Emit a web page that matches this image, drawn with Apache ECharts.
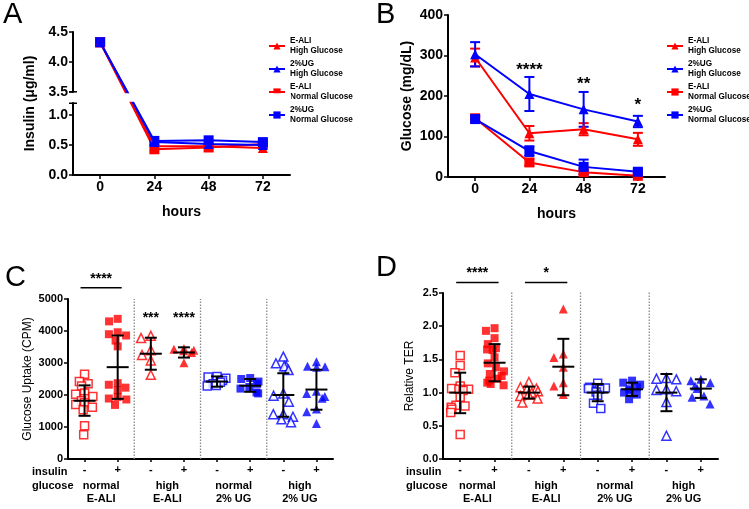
<!DOCTYPE html>
<html><head><meta charset="utf-8">
<script src="https://cdn.jsdelivr.net/npm/echarts@6/dist/echarts.min.js"></script>
<style>html,body{margin:0;padding:0;background:#fff}#c{width:749px;height:509px}</style>
</head><body><div id="c"></div>
<script>
// ---------- data ----------
const hours = ['0', '24', '48', '72'];
const seriesNames = ['E-ALI\nHigh Glucose', '2%UG\nHigh Glucose', 'E-ALI\nNormal Glucose', '2%UG\nNormal Glucose'];
// Panel A: insulin (ug/ml)
const aEaliHigh = [4.33, 0.48, 0.48, 0.45];
const aUgHigh = [4.33, 0.55, 0.52, 0.50];
const aEaliNormal = [4.33, 0.43, 0.46, 0.52];
const aUgNormal = [4.33, 0.57, 0.58, 0.55];
const aTicks = [0, 0.5, 1.0, 3.5, 4.0, 4.5];
const aBreak = [1.2, 3.5];
// Panel B: glucose (mg/dL) mean and SD
const bEaliHigh = [295, 108, 118, 93];
const bEaliHighSd = [22, 18, 15, 16];
const bUgHigh = [303, 205, 167, 137];
const bUgHighSd = [30, 42, 43, 14];
const bEaliNormal = [145, 36, 12, 3];
const bEaliNormalSd = [6, 8, 6, 3];
const bUgNormal = [143, 64, 25, 13];
const bUgNormalSd = [6, 12, 18, 5];
const bStarHours = ['24', '48', '72'];
const bStarValues = [263, 230, 176];
const bStarTexts = ['****', '**', '*'];
// Panels C / D categories
const insulinLabels = ['-', '+', '-', '+', '-', '+', '-', '+'];
const glucoseGroups = ['normal\nE-ALI', 'high\nE-ALI', 'normal\n2% UG', 'high\n2% UG'];
const separatorsAfter = [1, 3, 5];
// Panel C: glucose uptake (CPM)
const c1 = [2650, 2420, 2350, 2280, 2060, 2020, 1950, 1880, 1820, 1760, 1700, 1620, 1540, 1040, 760];
const c2 = [4380, 4300, 3960, 3900, 3860, 3700, 3520, 2370, 2320, 2230, 2150, 1940, 1890, 1860, 1690];
const c3 = [3850, 3780, 3400, 3250, 3080, 2630];
const c4 = [3450, 3430, 3400, 3380, 3330, 3010];
const c5 = [2580, 2560, 2520, 2450, 2400, 2350, 2300, 2280];
const c6 = [2530, 2500, 2420, 2350, 2250, 2200, 2080, 2050];
const c7 = [3200, 2990, 2900, 2900, 2780, 2050, 1980, 1790, 1400, 1400, 1320, 1240, 1150];
const c8 = [3040, 2900, 2880, 2870, 2120, 2050, 1950, 1900, 1560, 1480, 1110];
const cMean = [1820, 2870, 3290, 3330, 2420, 2290, 2000, 2170];
const cLow = [1350, 1880, 2790, 3170, 2260, 2100, 1320, 1540];
const cHigh = [2300, 3860, 3790, 3490, 2580, 2500, 2680, 2790];
const cSigBars = [[0, 1, 5350, '****']];
const cSigTexts = [[2, 4400, '***'], [3, 4400, '****']];
// Panel D: relative TER
const d1 = [1.56, 1.41, 1.30, 1.10, 1.06, 1.05, 1.05, 1.03, 0.93, 0.81, 0.80, 0.78, 0.75, 0.70, 0.37];
const d2 = [1.97, 1.93, 1.82, 1.73, 1.67, 1.65, 1.64, 1.53, 1.44, 1.38, 1.32, 1.28, 1.25, 1.21, 1.18, 1.15, 1.13, 1.11];
const d3 = [1.16, 1.08, 1.06, 1.05, 1.02, 1.00, 0.97, 0.95, 0.91, 0.85];
const d4 = [2.26, 1.58, 1.53, 1.38, 1.15, 1.10, 0.97];
const d5 = [1.14, 1.08, 1.07, 1.06, 1.05, 1.01, 0.96, 0.84, 0.76];
const d6 = [1.18, 1.15, 1.12, 1.08, 1.05, 1.03, 1.00, 0.97, 0.90];
const d7 = [1.22, 1.21, 1.20, 1.05, 1.04, 1.02, 0.86, 0.35];
const d8 = [1.20, 1.18, 1.15, 1.10, 1.06, 0.95, 0.93, 0.83];
const dMean = [1.00, 1.45, 1.00, 1.39, 1.00, 1.05, 1.00, 1.06];
const dLow = [0.69, 1.17, 0.91, 0.96, 0.87, 0.95, 0.72, 0.92];
const dHigh = [1.30, 1.73, 1.09, 1.81, 1.13, 1.15, 1.28, 1.20];
const dSigBars = [[0, 1, 2.66, '****'], [2, 3, 2.66, '*']];

// ---------- helpers ----------
const RED = '#ff0000', BLUE = '#0000ff';
const FONT = 'Arial, "Liberation Sans", sans-serif';
const chart = echarts.init(document.getElementById('c'), null, {renderer: 'canvas'});

function axisStyleBig() {
  return {
    axisLine: {show: true, lineStyle: {color: '#000', width: 2}},
    axisTick: {show: true, length: 4, lineStyle: {color: '#000', width: 1.5}},
    axisLabel: {color: '#000', fontSize: 14, fontWeight: 'bold', fontFamily: FONT, margin: 5},
    splitLine: {show: false},
    nameTextStyle: {color: '#000', fontSize: 14, fontWeight: 'bold', fontFamily: FONT}
  };
}
function axisStyleSmall() {
  return {
    axisLine: {show: true, lineStyle: {color: '#000', width: 2}},
    axisTick: {show: true, length: 4, lineStyle: {color: '#000', width: 1.5}},
    axisLabel: {color: '#000', fontSize: 11, fontWeight: 'bold', fontFamily: FONT, margin: 5},
    splitLine: {show: false},
    nameTextStyle: {color: '#000', fontSize: 12, fontFamily: FONT}
  };
}

function lineSeries(name, data, color, symbol, xi, yi) {
  return {
    type: 'line', name, data, xAxisIndex: xi, yAxisIndex: yi,
    symbol, symbolSize: 10,
    lineStyle: {color, width: 2}, itemStyle: {color},
    z: symbol === 'rect' ? 3 : 4, animation: false
  };
}
function errSeries(mean, sd, color, xi, yi) {
  return {
    type: 'custom', xAxisIndex: xi, yAxisIndex: yi, animation: false, silent: true, z: 3,
    data: mean.map((m, i) => [i, m - sd[i], m + sd[i]]),
    renderItem(params, api) {
      const lo = api.coord([api.value(0), api.value(1)]);
      const hi = api.coord([api.value(0), api.value(2)]);
      const st = {stroke: color, lineWidth: 2};
      return {type: 'group', children: [
        {type: 'line', shape: {x1: lo[0], y1: lo[1], x2: hi[0], y2: hi[1]}, style: st},
        {type: 'line', shape: {x1: lo[0] - 5, y1: lo[1], x2: lo[0] + 5, y2: lo[1]}, style: st},
        {type: 'line', shape: {x1: hi[0] - 5, y1: hi[1], x2: hi[0] + 5, y2: hi[1]}, style: st}
      ]};
    }
  };
}
function scatterSeries(values, cat, color, symbol, filled, xi, yi) {
  return {
    type: 'scatter', xAxisIndex: xi, yAxisIndex: yi, animation: false,
    data: values.map(v => [cat, v]),
    symbol, symbolSize: symbol === 'triangle' ? 9 : 8,
    itemStyle: filled ? {color} : {color: '#fff', borderColor: color, borderWidth: 1.5},
    z: 2
  };
}
function meanSdSeries(mean, low, high, xi, yi, half) {
  return {
    type: 'custom', xAxisIndex: xi, yAxisIndex: yi, animation: false, silent: true, z: 5,
    data: mean.map((m, i) => [i, m, low[i], high[i]]),
    renderItem(params, api) {
      const pm = api.coord([api.value(0), api.value(1)]);
      const pl = api.coord([api.value(0), api.value(2)]);
      const ph = api.coord([api.value(0), api.value(3)]);
      const st = {stroke: '#000', lineWidth: 2};
      return {type: 'group', children: [
        {type: 'line', shape: {x1: pm[0] - half, y1: pm[1], x2: pm[0] + half, y2: pm[1]}, style: st},
        {type: 'line', shape: {x1: pl[0], y1: pl[1], x2: ph[0], y2: ph[1]}, style: st},
        {type: 'line', shape: {x1: pl[0] - 6, y1: pl[1], x2: pl[0] + 6, y2: pl[1]}, style: st},
        {type: 'line', shape: {x1: ph[0] - 6, y1: ph[1], x2: ph[0] + 6, y2: ph[1]}, style: st}
      ]};
    }
  };
}
function separatorSeries(after, yTop, xi, yi) {
  return {
    type: 'custom', xAxisIndex: xi, yAxisIndex: yi, animation: false, silent: true, clip: false, z: 1,
    data: after.map(i => [i, 0, yTop]),
    renderItem(params, api) {
      const p0 = api.coord([api.value(0), api.value(1)]);
      const p1 = api.coord([api.value(0), api.value(2)]);
      const w = api.size([1, 0])[0];
      const x = p0[0] + w / 2;
      return {type: 'line', shape: {x1: x, y1: p0[1], x2: x, y2: p1[1]},
        style: {stroke: '#8a8a8a', lineWidth: 1.3, lineDash: [1.5, 1.5]}};
    }
  };
}
function sigBarSeries(bars, xi, yi) {
  return {
    type: 'custom', xAxisIndex: xi, yAxisIndex: yi, animation: false, silent: true, clip: false, z: 5,
    data: bars,
    renderItem(params, api) {
      const a = api.coord([api.value(0), api.value(2)]);
      const b = api.coord([api.value(1), api.value(2)]);
      const txt = bars[params.dataIndex][3];
      return {type: 'group', children: [
        {type: 'line', shape: {x1: a[0] - 4, y1: a[1], x2: b[0] + 4, y2: b[1]}, style: {stroke: '#000', lineWidth: 1.5}},
        {type: 'text', x: (a[0] + b[0]) / 2, y: a[1] - 2,
          style: {text: txt, fill: '#000', font: 'bold 14px ' + FONT, align: 'center', verticalAlign: 'bottom'}}
      ]};
    }
  };
}
function starSeries(items, xi, yi, size) {
  return {
    type: 'custom', xAxisIndex: xi, yAxisIndex: yi, animation: false, silent: true, clip: false, z: 5,
    data: items.map(it => [it[0], it[1]]),
    renderItem(params, api) {
      const p = api.coord([api.value(0), api.value(1)]);
      return {type: 'text', x: p[0], y: p[1],
        style: {text: items[params.dataIndex][2], fill: '#000', font: 'bold ' + size + 'px ' + FONT,
          align: 'center', verticalAlign: 'middle'}};
    }
  };
}
// white band that cuts the lines at the axis break of panel A
function breakBandSeries(brk, xi, yi) {
  return {
    type: 'custom', xAxisIndex: xi, yAxisIndex: yi, animation: false, silent: true, clip: false, z: 8,
    data: [[0, brk[0], brk[1]]],
    renderItem(params, api) {
      const lo = api.coord([0, brk[0]]);
      const hi = api.coord([0, brk[1]]);
      const cs = params.coordSys;
      const yTop = Math.min(lo[1], hi[1]) + 1.5, yBot = Math.max(lo[1], hi[1]) - 1.5;
      return {type: 'group', children: [
        {type: 'rect', shape: {x: cs.x - 3, y: yTop, width: cs.width + 4, height: yBot - yTop},
          style: {fill: '#fff'}},
        {type: 'line', shape: {x1: cs.x - 4, y1: hi[1], x2: cs.x + 4, y2: hi[1]}, style: {stroke: '#000', lineWidth: 1.5}},
        {type: 'line', shape: {x1: cs.x - 4, y1: lo[1], x2: cs.x + 4, y2: lo[1]}, style: {stroke: '#000', lineWidth: 1.5}}
      ]};
    }
  };
}

const legendText = {fontSize: 8.2, fontWeight: 'bold', fontFamily: FONT, color: '#000', lineHeight: 10, overflow: 'none'};

const option = {
  backgroundColor: '#fff',
  animation: false,
  textStyle: {fontFamily: FONT},
  graphic: [
    {type: 'text', left: 3, top: 0, style: {text: 'A', font: '29px ' + FONT, fill: '#000'}},
    {type: 'text', left: 376, top: 0, style: {text: 'B', font: '29px ' + FONT, fill: '#000'}},
    {type: 'text', left: 5, top: 263, style: {text: 'C', font: '29px ' + FONT, fill: '#000'}},
    {type: 'text', left: 376, top: 253, style: {text: 'D', font: '29px ' + FONT, fill: '#000'}},
    {type: 'text', left: 32, top: 465, style: {text: 'insulin\nglucose', font: 'bold 11px ' + FONT, fill: '#000', lineHeight: 14}},
    {type: 'text', left: 406, top: 465, style: {text: 'insulin\nglucose', font: 'bold 11px ' + FONT, fill: '#000', lineHeight: 14}}
  ],
  legend: [
    {data: seriesNames, left: 263, top: 31, orient: 'vertical', itemWidth: 16, itemHeight: 9, itemGap: 3,
      textStyle: legendText, selectedMode: false},
    {data: seriesNames, left: 661, top: 31, orient: 'vertical', itemWidth: 16, itemHeight: 9, itemGap: 3,
      textStyle: legendText, selectedMode: false}
  ],
  grid: [
    {left: 73, top: 32, width: 217, height: 143},
    {left: 448, top: 15, width: 217, height: 162},
    {left: 68, top: 299, width: 265, height: 160},
    {left: 443, top: 293, width: 275, height: 166}
  ],
  xAxis: [
    Object.assign(axisStyleBig(), {gridIndex: 0, type: 'category', data: hours, boundaryGap: true,
      axisTick: {show: true, alignWithLabel: true, length: 4, lineStyle: {color: '#000', width: 1.5}},
      name: 'hours', nameLocation: 'middle', nameGap: 30}),
    Object.assign(axisStyleBig(), {gridIndex: 1, type: 'category', data: hours, boundaryGap: true,
      axisTick: {show: true, alignWithLabel: true, length: 4, lineStyle: {color: '#000', width: 1.5}},
      name: 'hours', nameLocation: 'middle', nameGap: 30}),
    Object.assign(axisStyleSmall(), {gridIndex: 2, type: 'category', data: insulinLabels, boundaryGap: true,
      jitter: 20, jitterOverlap: false, jitterMargin: 1,
      axisTick: {show: true, alignWithLabel: true, length: 3, lineStyle: {color: '#000', width: 1.5}}}),
    Object.assign(axisStyleSmall(), {gridIndex: 3, type: 'category', data: insulinLabels, boundaryGap: true,
      jitter: 20, jitterOverlap: false, jitterMargin: 1,
      axisTick: {show: true, alignWithLabel: true, length: 3, lineStyle: {color: '#000', width: 1.5}}}),
    {gridIndex: 2, type: 'category', data: glucoseGroups, position: 'bottom', axisLine: {show: false}, axisTick: {show: false},
      axisLabel: {color: '#000', fontSize: 11, fontWeight: 'bold', fontFamily: FONT, margin: 20, lineHeight: 13}},
    {gridIndex: 3, type: 'category', data: glucoseGroups, position: 'bottom', axisLine: {show: false}, axisTick: {show: false},
      axisLabel: {color: '#000', fontSize: 11, fontWeight: 'bold', fontFamily: FONT, margin: 20, lineHeight: 13}}
  ],
  yAxis: [
    Object.assign(axisStyleBig(), {gridIndex: 0, type: 'value', min: 0, max: 4.5, interval: 0.5,
      breaks: [{start: aBreak[0], end: aBreak[1], gap: '8%'}],
      breakArea: {show: false},
      axisTick: {show: true, length: 4, customValues: aTicks, lineStyle: {color: '#000', width: 1.5}},
      axisLabel: {color: '#000', fontSize: 14, fontWeight: 'bold', fontFamily: FONT, margin: 5,
        customValues: aTicks, formatter: v => Number(v).toFixed(1)},
      name: 'Insulin (μg/ml)', nameLocation: 'middle', nameGap: 36}),
    Object.assign(axisStyleBig(), {gridIndex: 1, type: 'value', min: 0, max: 400, interval: 100,
      name: 'Glucose (mg/dL)', nameLocation: 'middle', nameGap: 34}),
    Object.assign(axisStyleSmall(), {gridIndex: 2, type: 'value', min: 0, max: 5000, interval: 1000,
      axisLabel: {color: '#000', fontSize: 11, fontWeight: 'bold', fontFamily: FONT, margin: 5, formatter: v => String(v)},
      name: 'Glucose Uptake (CPM)', nameLocation: 'middle', nameGap: 34}),
    Object.assign(axisStyleSmall(), {gridIndex: 3, type: 'value', min: 0, max: 2.5, interval: 0.5,
      axisLabel: {color: '#000', fontSize: 11, fontWeight: 'bold', fontFamily: FONT, margin: 5, formatter: v => Number(v).toFixed(1)},
      name: 'Relative TER', nameLocation: 'middle', nameGap: 27})
  ],
  series: [
    // Panel A
    lineSeries(seriesNames[2], aEaliNormal, RED, 'rect', 0, 0),
    lineSeries(seriesNames[3], aUgNormal, BLUE, 'rect', 0, 0),
    lineSeries(seriesNames[0], aEaliHigh, RED, 'triangle', 0, 0),
    lineSeries(seriesNames[1], aUgHigh, BLUE, 'triangle', 0, 0),
    breakBandSeries(aBreak, 0, 0),
    // Panel B
    errSeries(bEaliNormal, bEaliNormalSd, RED, 1, 1),
    errSeries(bUgNormal, bUgNormalSd, BLUE, 1, 1),
    errSeries(bEaliHigh, bEaliHighSd, RED, 1, 1),
    errSeries(bUgHigh, bUgHighSd, BLUE, 1, 1),
    lineSeries(seriesNames[2], bEaliNormal, RED, 'rect', 1, 1),
    lineSeries(seriesNames[3], bUgNormal, BLUE, 'rect', 1, 1),
    lineSeries(seriesNames[0], bEaliHigh, RED, 'triangle', 1, 1),
    lineSeries(seriesNames[1], bUgHigh, BLUE, 'triangle', 1, 1),
    starSeries(bStarHours.map((h, i) => [hours.indexOf(h), bStarValues[i], bStarTexts[i]]), 1, 1, 17),
    // Panel C
    separatorSeries(separatorsAfter, 5000, 2, 2),
    scatterSeries(c1, 0, RED, 'rect', false, 2, 2),
    scatterSeries(c2, 1, RED, 'rect', true, 2, 2),
    scatterSeries(c3, 2, RED, 'triangle', false, 2, 2),
    scatterSeries(c4, 3, RED, 'triangle', true, 2, 2),
    scatterSeries(c5, 4, BLUE, 'rect', false, 2, 2),
    scatterSeries(c6, 5, BLUE, 'rect', true, 2, 2),
    scatterSeries(c7, 6, BLUE, 'triangle', false, 2, 2),
    scatterSeries(c8, 7, BLUE, 'triangle', true, 2, 2),
    meanSdSeries(cMean, cLow, cHigh, 2, 2, 11),
    sigBarSeries(cSigBars, 2, 2),
    starSeries(cSigTexts, 2, 2, 14),
    // Panel D
    separatorSeries(separatorsAfter, 2.52, 3, 3),
    scatterSeries(d1, 0, RED, 'rect', false, 3, 3),
    scatterSeries(d2, 1, RED, 'rect', true, 3, 3),
    scatterSeries(d3, 2, RED, 'triangle', false, 3, 3),
    scatterSeries(d4, 3, RED, 'triangle', true, 3, 3),
    scatterSeries(d5, 4, BLUE, 'rect', false, 3, 3),
    scatterSeries(d6, 5, BLUE, 'rect', true, 3, 3),
    scatterSeries(d7, 6, BLUE, 'triangle', false, 3, 3),
    scatterSeries(d8, 7, BLUE, 'triangle', true, 3, 3),
    meanSdSeries(dMean, dLow, dHigh, 3, 3, 11),
    sigBarSeries(dSigBars, 3, 3)
  ]
};
chart.setOption(option);
</script>
</body></html>
